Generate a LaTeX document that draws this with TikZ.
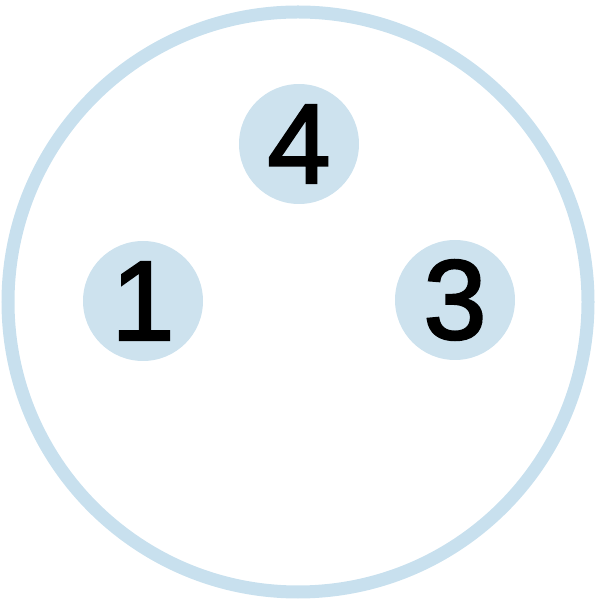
\documentclass[tikz,border=0pt]{standalone}
\usepackage{fontspec}
\setmainfont{Liberation Sans}
\newfontfamily\pinfont[FakeBold=2.2]{Liberation Sans}
\definecolor{pinblue}{RGB}{205,226,238}
\definecolor{ringblue}{RGB}{200,224,238}
\tikzset{
  pin/.style = {circle, fill = pinblue, minimum size = 120pt, inner sep = 0pt,
                font = \pinfont\fontsize{113}{113}\selectfont}
}
\begin{document}
\begin{tikzpicture}[x = 1pt, y = 1pt]
  \useasboundingbox (0, 0) rectangle (600, 600);
  \draw [ringblue, line width = 13pt] (298, 298) circle (290);
  \node (p4) at (299, 456) [pin] {4};
  \node (p1) at (143, 299) [pin] {1};
  \node (p3) at (455, 300) [pin] {3};
\end{tikzpicture}
\end{document}
